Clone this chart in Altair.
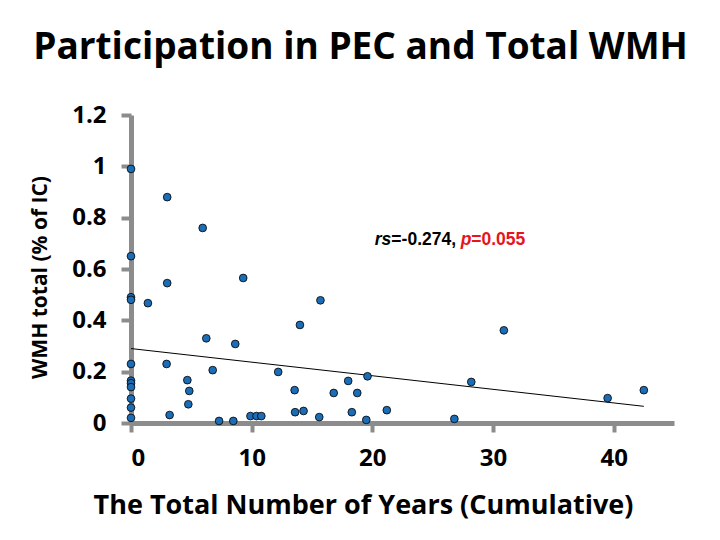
import altair as alt
import pandas as pd

# ---- data ----
years = [0, 0, 0, 0, 0, 0, 0, 0, 0, 0, 0,
         1.4, 3.0, 2.95, 3.2, 6.24, 8.64, 6.77, 4.67, 4.83, 4.75,
         7.3, 8.48, 9.9, 10.4, 10.8,
         3.0, 5.94, 9.3,
         15.7, 14.0, 12.2, 18.0, 19.6, 13.56, 16.8, 18.75,
         13.6, 14.3, 15.6, 18.3, 19.5, 21.2,
         30.9, 28.2, 26.8, 39.5, 42.5]
wmh = [0.99, 0.65, 0.49, 0.48, 0.23, 0.165, 0.155, 0.14, 0.095, 0.06, 0.02,
       0.467, 0.545, 0.23, 0.031, 0.33, 0.308, 0.206, 0.167, 0.125, 0.073,
       0.008, 0.008, 0.027, 0.027, 0.027,
       0.88, 0.76, 0.565,
       0.478, 0.382, 0.199, 0.164, 0.182, 0.128, 0.117, 0.117,
       0.042, 0.047, 0.023, 0.042, 0.012, 0.05,
       0.361, 0.16, 0.016, 0.097, 0.128]

trend_x = [0, 42.5]
trend_y = [0.29, 0.065]

x_ticks = [0, 10, 20, 30, 40]
y_ticks = [0, 0.2, 0.4, 0.6, 0.8, 1.0, 1.2]

ann_x = [20.2]
ann_y = [0.693]
ann_parts = ["rs", "=-0.274, ", "p", "=0.055"]

title_text = "Participation in PEC and Total WMH"
x_title = "The Total Number of Years (Cumulative)"
y_title = "WMH total (% of IC)"

# ---- chart ----
pts = pd.DataFrame({"years": years, "wmh": wmh})
trend = pd.DataFrame({"years": trend_x, "wmh": trend_y})

GRAY = "#8c8c8c"
FONT = "Open Sans"

xscale = alt.Scale(domain=[0, 45], nice=False, zero=True)
yscale = alt.Scale(domain=[0, 1.2], nice=False)

common = dict(grid=False, domainColor=GRAY, domainWidth=5, tickColor=GRAY, tickWidth=4,
              labelFont=FONT, labelFontWeight="bold", labelColor="black",
              titleFont=FONT, titleFontWeight="bold", titleColor="black")

xaxis = alt.Axis(values=x_ticks, title=x_title, tickSize=9,
                 labelFontSize=24, labelPadding=14,
                 titleFontSize=27,
                 titleX=232, titleY=82, titleBaseline="middle", titleAlign="center",
                 **common)
yaxis = alt.Axis(values=y_ticks, title=y_title, format=".1~f", tickSize=10,
                 labelFontSize=24, labelPadding=15,
                 titleFontSize=21,
                 titleX=-91, titleY=162, titleBaseline="middle", titleAlign="center",
                 **common)

line = alt.Chart(trend).mark_line(color="black", strokeWidth=1).encode(
    x=alt.X("years:Q", scale=xscale, axis=xaxis),
    y=alt.Y("wmh:Q", scale=yscale, axis=yaxis),
)

points = alt.Chart(pts).mark_point(filled=True, fill="#1c6db5", stroke="black",
                                   strokeWidth=0.8, size=60, opacity=1).encode(
    x=alt.X("years:Q", scale=xscale, axis=xaxis),
    y=alt.Y("wmh:Q", scale=yscale, axis=yaxis),
)

ann_df = pd.DataFrame({"x": ann_x, "y": ann_y})
styles = [
    dict(text=ann_parts[0], color="black", fontStyle="italic", dx=0),
    dict(text=ann_parts[1], color="black", fontStyle="normal", dx=16.6),
    dict(text=ann_parts[2], color="#e8141b", fontStyle="italic", dx=85.9),
    dict(text=ann_parts[3], color="#e8141b", fontStyle="normal", dx=96.5),
]
ann_layers = []
for s in styles:
    ann_layers.append(
        alt.Chart(ann_df).mark_text(
            text=s["text"], color=s["color"], fontStyle=s["fontStyle"], dx=s["dx"],
            font="Liberation Sans", fontWeight="bold", fontSize=17.5,
            align="left", baseline="alphabetic"
        ).encode(x=alt.X("x:Q", scale=xscale), y=alt.Y("y:Q", scale=yscale))
    )

chart = alt.layer(line, points, *ann_layers).properties(
    width=543, height=308,
    background="white",
    title=alt.TitleParams(title_text, font=FONT, fontSize=37, fontWeight="bold",
                          color="black", anchor="middle", frame="group", dx=-42,
                          offset=36),
    autosize=alt.AutoSizeParams(type="none"),
    padding={"left": 123, "top": 107, "right": 38, "bottom": 109},
).configure_view(strokeWidth=0)

chart.save("out.html", embed_options={"renderer": "svg", "actions": False})
